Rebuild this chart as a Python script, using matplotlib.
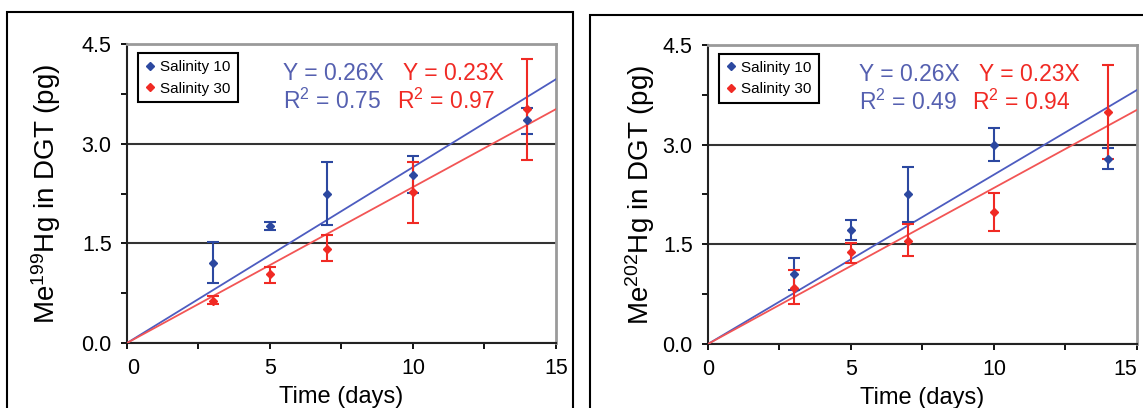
import numpy as np
import matplotlib
matplotlib.use("Agg")
import matplotlib.pyplot as plt
from matplotlib.patches import Rectangle

plt.rcParams['font.family'] = ['Liberation Sans', 'DejaVu Sans']
plt.rcParams['mathtext.fontset'] = 'custom'
plt.rcParams['mathtext.rm'] = 'Liberation Sans'
plt.rcParams['mathtext.default'] = 'regular'

# sampling days
days = [3, 5, 7, 10, 14]

# Me199Hg panel
me199_s10 = [1.21, 1.76, 2.24, 2.53, 3.35]
me199_s10_lo = [0.91, 1.70, 1.77, 2.26, 3.15]
me199_s10_hi = [1.52, 1.82, 2.72, 2.82, 3.54]
me199_s30 = [0.63, 1.04, 1.41, 2.27, 3.52]
me199_s30_lo = [0.58, 0.91, 1.23, 1.80, 2.75]
me199_s30_hi = [0.70, 1.15, 1.62, 2.72, 4.28]

# Me202Hg panel
me202_s10 = [1.06, 1.72, 2.25, 3.00, 2.79]
me202_s10_lo = [0.82, 1.57, 1.84, 2.76, 2.64]
me202_s10_hi = [1.30, 1.87, 2.67, 3.25, 2.95]
me202_s30 = [0.84, 1.38, 1.55, 1.99, 3.49]
me202_s30_lo = [0.60, 1.22, 1.32, 1.70, 2.79]
me202_s30_hi = [1.12, 1.52, 1.81, 2.27, 4.20]

isotopes = ['199', '202']
slope_labels = [('0.26', '0.23'), ('0.26', '0.23')]
r2_labels = [('0.75', '0.97'), ('0.49', '0.94')]
series_names = ['Salinity 10', 'Salinity 30']

blue = '#2c48a0'
blue_line = '#4d5cc0'
blue_txt = '#5560b0'
red = '#f02a24'
red_line = '#f25555'

fig = plt.figure(figsize=(11.43, 4.08), dpi=100)

# outer boxes around each panel
fig.patches.append(Rectangle((0.0061, -0.02), 0.4952, 0.9906, transform=fig.transFigure,
                             fill=False, edgecolor='black', linewidth=1.5))
fig.patches.append(Rectangle((0.5162, -0.02), 0.49, 0.983, transform=fig.transFigure,
                             fill=False, edgecolor='black', linewidth=1.5))

panels = [
    (me199_s10, me199_s10_lo, me199_s10_hi, me199_s30, me199_s30_lo, me199_s30_hi),
    (me202_s10, me202_s10_lo, me202_s10_hi, me202_s30, me202_s30_lo, me202_s30_hi),
]
ax_pos = [[0.1111, 0.1593, 0.3753, 0.7328], [0.6194, 0.1569, 0.3753, 0.7328]]
ylab_x = [-0.150, -0.118]
eq_x = [(283, 403, 397), (859, 979, 972)]

x = np.array(days, dtype=float)
xfit = np.array([0, 15])

for i, (s10, s10lo, s10hi, s30, s30lo, s30hi) in enumerate(panels):
    ax = fig.add_axes(ax_pos[i])
    ax.set_xlim(0, 15)
    ax.set_ylim(0, 4.5)

    for y, lo, hi, c, lc in [(s10, s10lo, s10hi, blue, blue_line),
                             (s30, s30lo, s30hi, red, red_line)]:
        y = np.array(y)
        err = [y - np.array(lo), np.array(hi) - y]
        k = np.sum(x * y) / np.sum(x * x)  # fit through origin
        ax.plot(xfit, k * xfit, color=lc, lw=1.3, zorder=3)
        ax.errorbar(x, y, yerr=err, fmt='D', ms=4, color=c, ecolor=c,
                    elinewidth=1.5, capsize=4, capthick=1.5, zorder=4)

    ax.set_yticks([0, 1.5, 3.0, 4.5])
    ax.set_yticks(np.arange(0, 4.6, 0.75), minor=True)
    ax.set_yticklabels(['0.0', '1.5', '3.0', '4.5'])
    ax.set_xticks([0, 5, 10, 15])
    ax.set_xticks([2.5, 7.5, 12.5], minor=True)
    ax.tick_params(which='both', direction='out', length=4, width=1.3, labelsize=15.5)
    ax.tick_params(axis='y', pad=7)
    ax.tick_params(axis='x', pad=7)
    xl = ax.get_xticklabels()
    if i == 0:
        xl[0].set_ha('left')
    else:
        xl[-1].set_ha('right')

    ax.set_axisbelow(True)
    ax.yaxis.grid(True, which='major', color='#333333', lw=1.5)
    for s in ['left', 'bottom']:
        ax.spines[s].set_color('#222222')
        ax.spines[s].set_linewidth(1.5)
    for s in ['top', 'right']:
        ax.spines[s].set_color('#9a9a9a')
        ax.spines[s].set_linewidth(2)

    ax.set_ylabel('Me$^{%s}$Hg in DGT (pg)' % isotopes[i], fontsize=20)
    ax.yaxis.set_label_coords(ylab_x[i], 0.5)
    ax.set_xlabel('Time (days)', fontsize=17)
    ax.xaxis.set_label_coords(0.5, -0.145)

    # legend
    h1 = ax.plot([], [], 'D', ms=4, color=blue)[0]
    h2 = ax.plot([], [], 'D', ms=4, color=red)[0]
    leg = ax.legend([h1, h2], series_names, loc='upper left', bbox_to_anchor=(0.026, 0.97),
                    borderaxespad=0, fontsize=11, handlelength=0.6, handletextpad=0.4,
                    borderpad=0.45, labelspacing=0.5, fancybox=False, framealpha=1,
                    edgecolor='black')
    leg.get_frame().set_linewidth(1.5)

    # equations
    bx, rx, rrx = eq_x[i]
    tr = ax.transAxes
    x0 = ax_pos[i][0] * 1143
    def fx(px):
        return (px - x0) / 429
    ax.text(fx(bx), 0.9, 'Y = %sX' % slope_labels[i][0], color=blue_txt, fontsize=16.5,
            transform=tr, va='center')
    ax.text(fx(bx), 0.81, 'R$^2$ = %s' % r2_labels[i][0], color=blue_txt, fontsize=16.5,
            transform=tr, va='center')
    ax.text(fx(rx), 0.9, 'Y = %sX' % slope_labels[i][1], color=red, fontsize=16.5,
            transform=tr, va='center')
    ax.text(fx(rrx), 0.81, 'R$^2$ = %s' % r2_labels[i][1], color=red, fontsize=16.5,
            transform=tr, va='center')

fig.savefig('out.png', dpi=100)
